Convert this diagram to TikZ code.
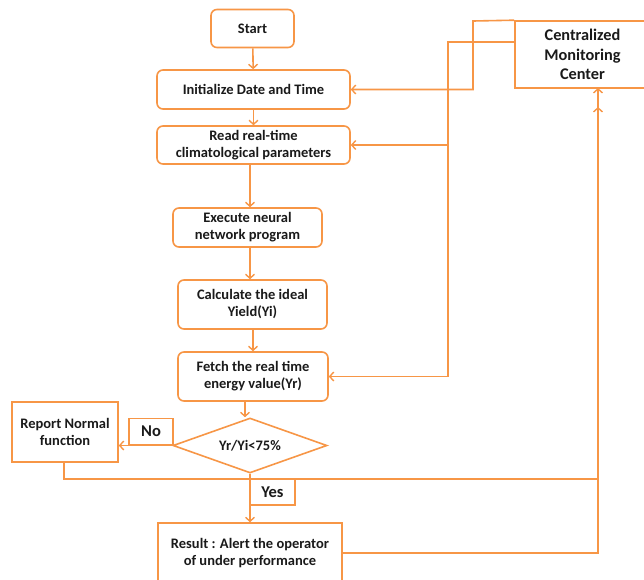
\documentclass[tikz,border=0pt]{standalone}
\usepackage{fontspec}
\setmainfont{Carlito}
\usetikzlibrary{shapes.geometric,arrows.meta}
\definecolor{flow}{HTML}{F79646}
\definecolor{ink}{HTML}{1A1A1A}
\tikzset{
  base/.style={draw=flow, line width=1.6pt, text=ink, font=\fontsize{14.5}{17}\selectfont\bfseries, align=center, inner sep=2pt},
  proc/.style={base, rounded corners=6pt},
  plain/.style={base},
  tag/.style={base, font=\fontsize{16.5}{19}\selectfont\bfseries},
  decision/.style={base, diamond, shape aspect=2.8, inner sep=0pt},
  link/.style={draw=flow, line width=1.6pt},
  arr/.style={link, -{Straight Barb[length=4pt,width=9pt,line width=1.4pt]}}
}
\begin{document}
\begin{tikzpicture}[x=1pt,y=-1pt]
\clip (0,0) rectangle (644,579);
\fill[white] (0,0) rectangle (644,579);

% main column
\node[proc, minimum width=83pt, minimum height=38pt] (start) at (252.5,28.5) {Start};
\node[proc, minimum width=193pt, minimum height=39pt] (init) at (253.5,89.5) {Initialize Date and Time};
\node[proc, minimum width=193pt, minimum height=38pt] (read) at (253.5,145) {Read real-time\\climatological parameters};
\node[proc, minimum width=149pt, minimum height=39pt] (exec) at (247.5,227.5) {Execute neural\\network program};
\node[proc, minimum width=149pt, minimum height=49pt] (calc) at (252.5,304.5) {Calculate the ideal\\Yield(Yi)};
\node[proc, minimum width=150pt, minimum height=49pt] (fetch) at (253,376.5) {Fetch the real time\\energy value(Yr)};
\node[decision, minimum width=154pt, minimum height=55pt] (dec) at (250,445.5) {Yr/Yi<75\%};
\node[plain, minimum width=184pt, minimum height=60pt] (res) at (250,553) {Result : Alert the operator\\of under performance};

% side boxes
\node[plain, minimum width=106pt, minimum height=60pt] (rep) at (65,432) {Report Normal\\function};
\node[plain, minimum width=135pt, minimum height=67pt, font=\fontsize{16.3}{19.5}\selectfont\bfseries] (cmc) at (582.5,54.5) {Centralized\\Monitoring\\Center};

% branch labels
\node[tag, minimum width=44pt, minimum height=26pt] (no) at (151,431.5) {No};
\node[tag, minimum width=45pt, minimum height=26pt] (yes) at (272.5,492) {Yes};

% downward flow
\draw[arr] (start) -- (init);
\draw[arr] (init) -- (read);
\draw[arr] (read.south -| 250,0) -- (exec.north -| 250,0);
\draw[arr] (exec.south -| 250,0) -- (calc.north -| 250,0);
\draw[arr] (calc.south -| 253,0) -- (fetch.north -| 253,0);
\draw[arr] (fetch.south -| 245,0) -- (dec.north -| 245,0);
\draw[arr] (dec.south) -- (res.north);
\draw[arr] (dec.west) -- (dec.west -| rep.east);

% feeds from the monitoring center
\coordinate (top) at (473,21);
\coordinate (feed) at (515,42);
\coordinate (bus) at (448,42);
\coordinate (tap) at (448,145);
\draw[arr] (cmc.north west) -- (top) |- (init.east);
\draw[arr] (feed) -- (bus) |- (read.east);
\draw[arr] (tap) |- (fetch.east);

% reports back to the monitoring center
\coordinate (up) at (598,88);
\coordinate (upb) at (598,107);
\coordinate (merge) at (598,479);
\draw[arr] (res.east) -| (up);
\draw[arr] (rep.south -| 64,0) |- (merge) -- (upb);
\end{tikzpicture}
\end{document}
